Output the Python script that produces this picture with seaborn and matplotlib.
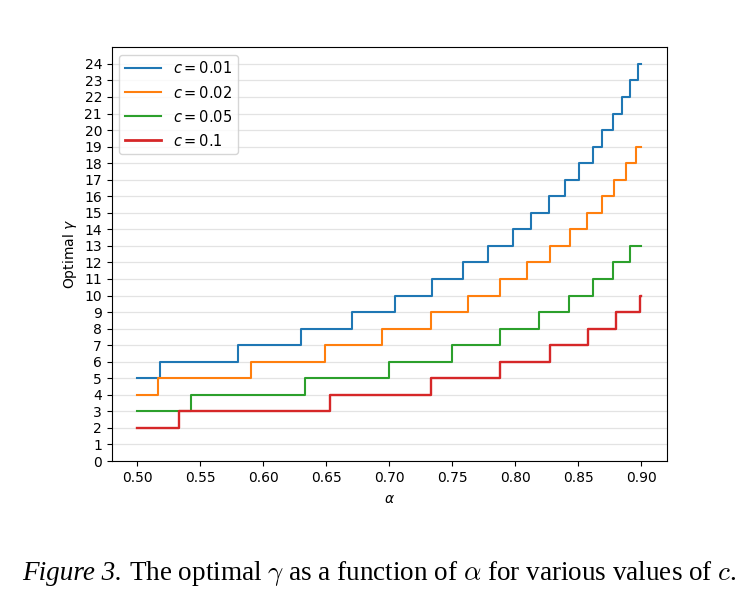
import numpy as np
import pandas as pd
import matplotlib
matplotlib.use("Agg")
import matplotlib.pyplot as plt
import seaborn as sns

# alpha values where the optimal gamma jumps up by one, per cost c
alpha_start = 0.5
alpha_end = 0.9

c_values = ["0.01", "0.02", "0.05", "0.1"]

breaks_c001 = [0.5185, 0.5798, 0.6300, 0.6706, 0.7049, 0.7339, 0.7584, 0.7786,
               0.7979, 0.8128, 0.8268, 0.8397, 0.8508, 0.8613, 0.8687, 0.8771,
               0.8847, 0.8910, 0.8971]
levels_c001 = list(range(5, 25))

breaks_c002 = [0.5169, 0.5908, 0.6488, 0.6943, 0.7330, 0.7628, 0.7880, 0.8090,
               0.8273, 0.8436, 0.8568, 0.8689, 0.8786, 0.8876, 0.8957]
levels_c002 = list(range(4, 20))

breaks_c005 = [0.5427, 0.6333, 0.6996, 0.7496, 0.7880, 0.8186, 0.8425, 0.8615,
               0.8778, 0.8907]
levels_c005 = list(range(3, 14))

breaks_c01 = [0.5337, 0.6527, 0.7328, 0.7876, 0.8277, 0.8577, 0.8800, 0.8987]
levels_c01 = list(range(2, 11))

all_breaks = [breaks_c001, breaks_c002, breaks_c005, breaks_c01]
all_levels = [levels_c001, levels_c002, levels_c005, levels_c01]

# long-form table for seaborn
rows = []
for c, br, lv in zip(c_values, all_breaks, all_levels):
    xs = [alpha_start] + br + [alpha_end]
    ys = lv + [lv[-1]]
    for x, y in zip(xs, ys):
        rows.append({"alpha": x, "gamma": y, "c": f"$c = {c}$"})
df = pd.DataFrame(rows)

plt.rcParams["mathtext.fontset"] = "dejavusans"

fig = plt.figure(figsize=(7.55, 6.15), dpi=100)
ax = fig.add_axes([0.148, 0.2504, 0.735, 0.6726])

palette = ["#1f77b4", "#ff7f0e", "#2ca02c", "#d62728"]
sns.lineplot(data=df, x="alpha", y="gamma", hue="c", palette=palette,
             drawstyle="steps-post", linewidth=1.5, ax=ax, estimator=None)
# c = 0.1 is drawn a touch heavier
ax.lines[3].set_linewidth(1.7)

ax.set_xlim(0.48, 0.92)
ax.set_ylim(0, 25)
ax.set_yticks(range(0, 25))
ticks = np.arange(0.5, 0.901, 0.05)
ax.set_xticks(ticks)
ax.set_xticklabels([f"{t:.2f}" for t in ticks])
ax.tick_params(labelsize=10)
ax.yaxis.grid(True, color="#e3e3e3", linewidth=0.9)
ax.set_axisbelow(True)
ax.set_xlabel(r"$\alpha$", fontsize=10, labelpad=5)
ax.set_ylabel(r"Optimal $\gamma$", fontsize=10, labelpad=4)

old = ax.get_legend()
handles = old.legend_handles
labels = [t.get_text() for t in old.get_texts()]
old.remove()
handles[3].set_linewidth(2.0)
ax.legend(handles, labels, loc="upper left", fontsize=10.5, handlelength=2.5,
          labelspacing=0.55)

# caption under the figure, Times-like
fig.text(0.029, 0.067, "Figure 3.", ha="left", va="center", fontsize=19.5,
         family="Liberation Serif", style="italic")
fig.text(0.171, 0.067,
         r"The optimal $\gamma$ as a function of $\alpha$ for various values of $c$.",
         ha="left", va="center", fontsize=19.5,
         family="Liberation Serif", math_fontfamily="cm")

fig.savefig("out.png", dpi=100)
